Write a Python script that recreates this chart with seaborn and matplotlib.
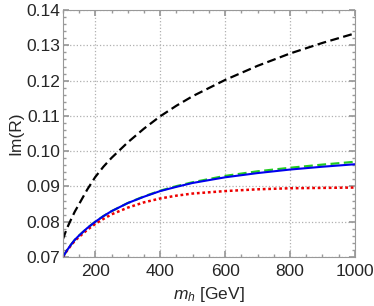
import pandas as pd
import matplotlib.pyplot as plt
import seaborn as sns
from matplotlib.ticker import MultipleLocator

sns.set_theme(style="ticks")
plt.rcParams['font.family'] = ['Liberation Sans', 'DejaVu Sans']
plt.rcParams['mathtext.fontset'] = 'custom'
plt.rcParams['mathtext.it'] = 'Liberation Sans:italic'

# values
mh = [100, 112, 125, 137, 150, 175, 200, 225, 250, 300, 350, 400, 450, 500,
      600, 700, 800, 900, 1000]
im_black = [0.0750, 0.0780, 0.0806, 0.0829, 0.0850, 0.0891, 0.0927, 0.0956, 0.0981, 0.1025,
            0.1064, 0.1099, 0.1129, 0.1156, 0.1202, 0.1242, 0.1277, 0.1307, 0.1334]
im_green = [0.0700, 0.0718, 0.0735, 0.0749, 0.0761, 0.0782, 0.0800, 0.0816, 0.0830, 0.0853,
            0.0872, 0.0888, 0.0901, 0.0912, 0.0930, 0.0943, 0.0953, 0.0962, 0.0970]
im_blue = [0.0700, 0.0718, 0.0735, 0.0749, 0.0761, 0.0782, 0.0800, 0.0816, 0.0830, 0.0853,
           0.0871, 0.0887, 0.0899, 0.0910, 0.0926, 0.0938, 0.0948, 0.0956, 0.0963]
im_red = [0.0700, 0.0717, 0.0733, 0.0746, 0.0757, 0.0777, 0.0794, 0.0808, 0.0821, 0.0840,
          0.0855, 0.0866, 0.0874, 0.0880, 0.0887, 0.0892, 0.0895, 0.0896, 0.0897]

n = len(mh)
df = pd.DataFrame({
    'mh': mh * 4,
    'ImR': im_black + im_green + im_blue + im_red,
    'curve': ['black'] * n + ['green'] * n + ['blue'] * n + ['red'] * n,
})

fig = plt.figure(figsize=(3.74, 3.06), dpi=100)
ax = fig.add_axes([0.168, 0.16, 0.781, 0.807])

palette = {'black': 'black', 'green': '#22cc22', 'blue': '#0000ee', 'red': '#ee0000'}
styles = {'black': (0, (4, 2)), 'green': (0, (4, 2)), 'blue': '-', 'red': (0, (1.1, 1.1))}
widths = {'black': 1.6, 'green': 1.6, 'blue': 1.5, 'red': 1.8}
for name in ['black', 'green', 'red', 'blue']:
    sub = df[df['curve'] == name]
    sns.lineplot(data=sub, x='mh', y='ImR', color=palette[name], ax=ax,
                 linestyle=styles[name], linewidth=widths[name], legend=False)

ax.set_xlim(100, 1000)
ax.set_ylim(0.07, 0.14)
ax.xaxis.set_minor_locator(MultipleLocator(50))
ax.yaxis.set_major_locator(MultipleLocator(0.01))
ax.yaxis.set_minor_locator(MultipleLocator(0.002))
ax.set_xticks([200, 400, 600, 800, 1000])
ax.set_yticklabels([f"{v:.2f}" for v in ax.get_yticks()])

ax.grid(True, which='major', linestyle=':', color='#b0b0b0', linewidth=0.9)
ax.tick_params(which='both', direction='in', top=True, right=True, color='#999999', labelsize=12.5)
ax.tick_params(axis='x', pad=5)
ax.tick_params(axis='y', pad=2)
ax.tick_params(which='major', length=4)
ax.tick_params(which='minor', length=2)
for s in ax.spines.values():
    s.set_color('#999999')
    s.set_linewidth(0.8)

ax.set_xlabel(r"$m_h$ [GeV]", fontsize=12.5)
ax.set_ylabel("Im(R)", fontsize=12.5, labelpad=2)

plt.savefig("out.png", dpi=100)
